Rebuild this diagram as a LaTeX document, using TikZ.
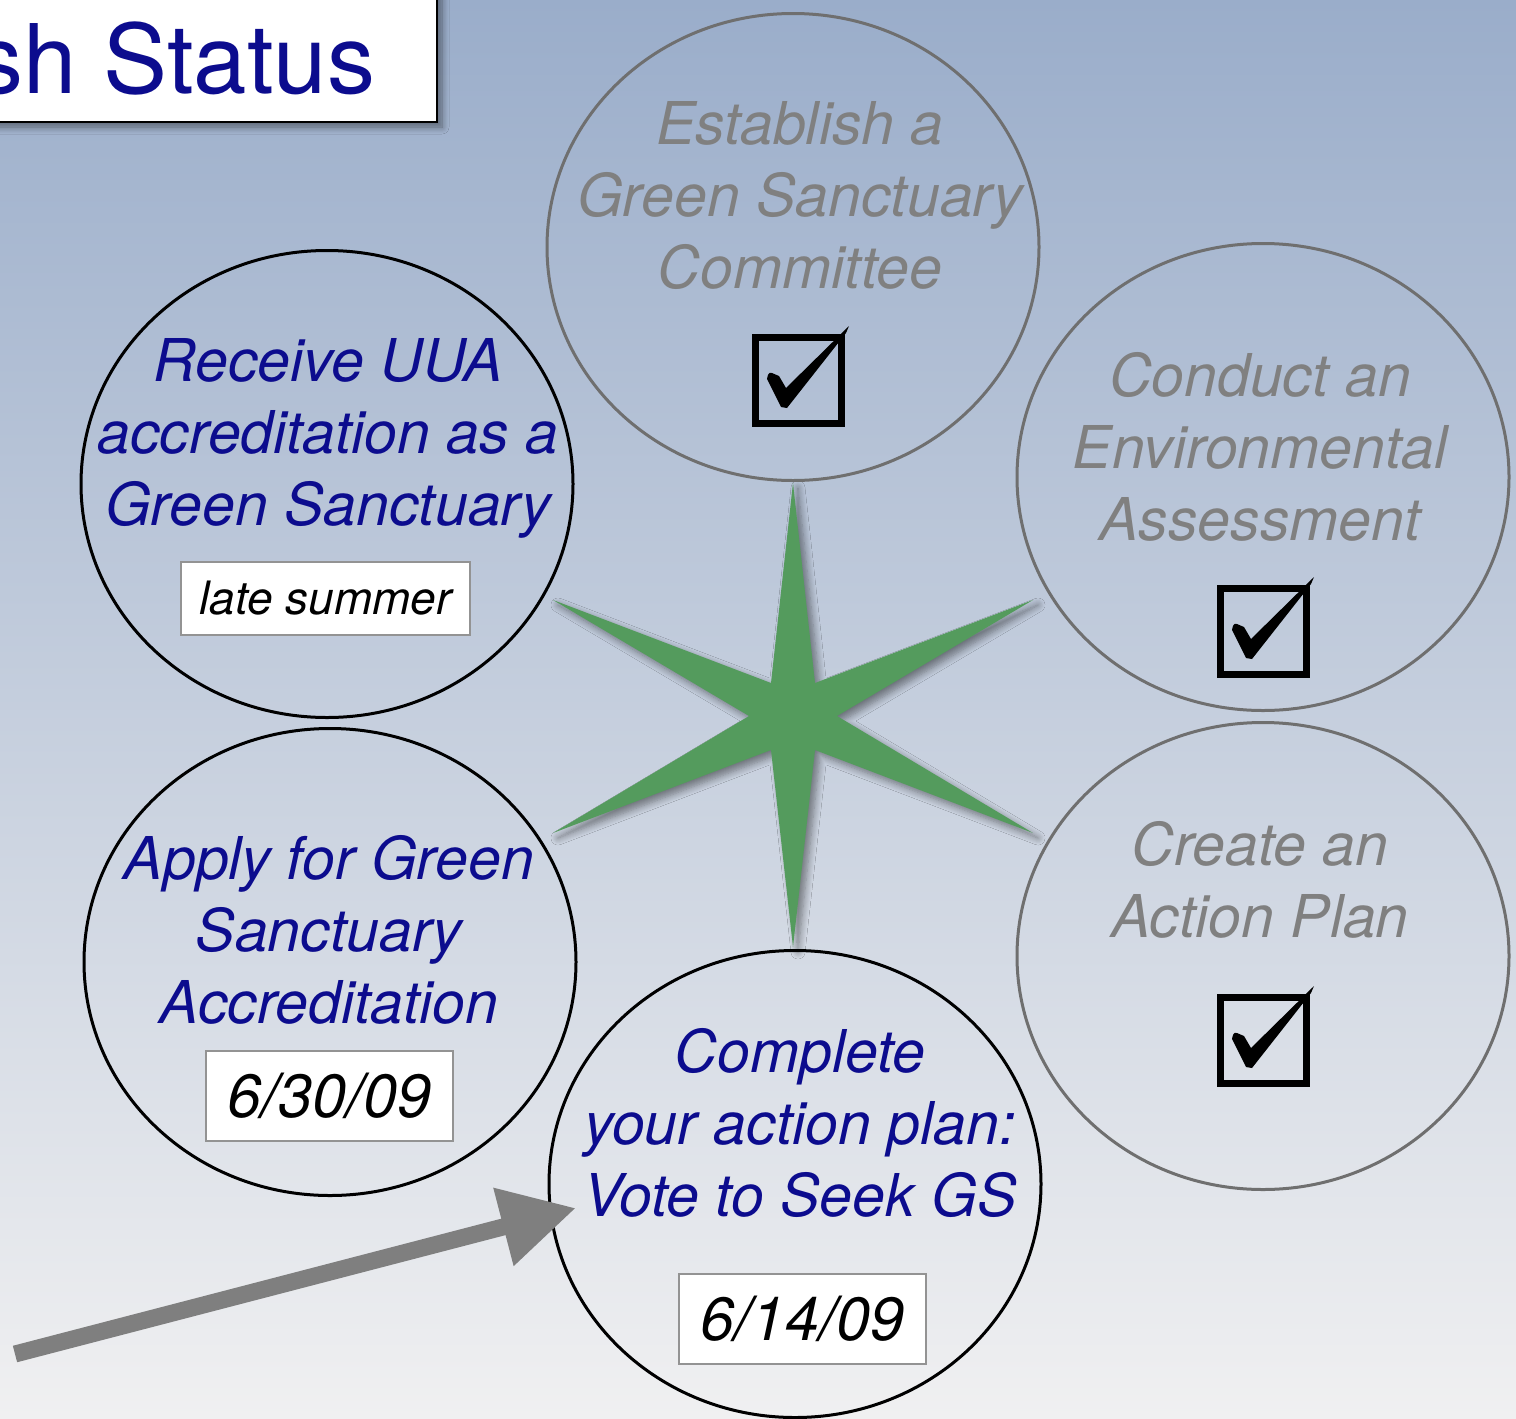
\documentclass[tikz,border=0pt]{standalone}
\usepackage{fontspec}
\newfontfamily\gsfont{TeX Gyre Heros}
\usetikzlibrary{shapes.geometric,arrows.meta,shadows.blur}
\definecolor{gsblue}{HTML}{0C0C8E}
\definecolor{gsgray}{HTML}{808080}
\definecolor{ringgray}{HTML}{6F6F6F}
\definecolor{stargreen}{HTML}{549B5D}
\definecolor{arrowgray}{HTML}{7F7F7F}
\definecolor{bgtop}{HTML}{9AADCA}
\definecolor{bgbot}{HTML}{F0F0F1}
\tikzset{
  ring/.style={ellipse,line width=1.5pt,minimum width=246pt,minimum height=233.5pt,inner sep=0pt},
  donering/.style={ring,draw=ringgray},
  openring/.style={ring,draw=black},
  donetext/.style={font=\gsfont\itshape\fontsize{29.5}{36}\selectfont,text=gsgray,align=center,inner sep=0pt},
  opentext/.style={donetext,text=gsblue},
  tickbox/.style={draw=black,line width=3.5pt,minimum size=43pt,inner sep=0pt},
  datebox/.style={draw=gray!85,fill=white,line width=0.7pt,inner sep=0pt,minimum width=123.5pt,minimum height=45pt,font=\gsfont\itshape\fontsize{30.5}{36}\selectfont},
  softshadow/.style={blur shadow={shadow xshift=2.5pt,shadow yshift=-2.5pt,shadow blur steps=8,shadow blur radius=3.5pt,shadow opacity=45}}
}
% check mark inside a tick box
\newcommand{\tickin}[1]{\fill[black] (#1) ++(-31,-1) .. controls ++(1,-4) and ++(-4,-1) .. ++(5,-6) -- ++(7,3) -- ++(7,12) -- ++(63,-62) -- ++(-3,7) -- ++(-59,75) -- ++(-6,-1) -- cycle;}
\begin{document}
\begin{tikzpicture}[x=0.5pt,y=-0.5pt]
\useasboundingbox (0,0) rectangle (1516,1419);
\shade[top color=bgtop,bottom color=bgbot] (0,0) rectangle (1516,1419);
% title box
\node[draw=black,fill=white,line width=1pt,minimum width=228.5pt,minimum height=71pt,inner sep=0pt,softshadow] (titlebox) at (208.5,51) {};
\node[anchor=base west,inner sep=0pt,text=gsblue,font=\gsfont\fontsize{48}{50}\selectfont] (titletxt) at (-25,93) {sh Status};
% star
\fill[stargreen,softshadow] (793,483) -- (815,683) -- (1033,600) -- (837,716) -- (1033,833) -- (815,750)
  -- (793,947) -- (771,750) -- (553,833) -- (749,716) -- (553,600) -- (771,683) -- cycle;
% steps already done
\node[donering] (estab) at (793,247) {};
\node[donetext] (estabtxt) at (800,196) {Establish a\\Green Sanctuary\\Committee};
\node[tickbox] (estabbox) at (798,380) {};
\tickin{estabbox.center}
\node[donering] (conduct) at (1263,477) {};
\node[donetext] (conducttxt) at (1260,447) {Conduct an\\Environmental\\Assessment};
\node[tickbox] (conductbox) at (1263,631) {};
\tickin{conductbox.center}
\node[donering] (create) at (1263,956) {};
\node[donetext] (createtxt) at (1260,880) {Create an\\Action Plan};
\node[tickbox] (createbox) at (1263,1040) {};
\tickin{createbox.center}
% steps still open
\node[openring] (receive) at (327,484) {};
\node[opentext] (receivetxt) at (328,438) {Receive UUA\\accreditation as a\\Green Sanctuary};
\node[datebox,minimum width=144.5pt,minimum height=36.5pt,font=\gsfont\itshape\fontsize{23}{28}\selectfont] (receivedate) at (325.5,598.5) {late summer};
\node[openring] (apply) at (330,962) {};
\node[opentext] (applytxt) at (329,930) {Apply for Green\\Sanctuary\\Accreditation};
\node[datebox] (applydate) at (329.5,1096) {6/30/09};
\node[openring] (complete) at (795,1184) {};
\node[opentext] (completetxt) at (800,1123) {Complete\\your action plan:\\Vote to Seek GS};
\node[datebox] (completedate) at (802.5,1319) {6/14/09};
% pointer
\coordinate (arrowtail) at (15,1354);
\coordinate (arrowtip) at (576,1208);
\draw[arrowgray,line width=8.5pt,-{Triangle[length=37.5pt,width=38pt]}] (arrowtail) -- (arrowtip);
\end{tikzpicture}
\end{document}
